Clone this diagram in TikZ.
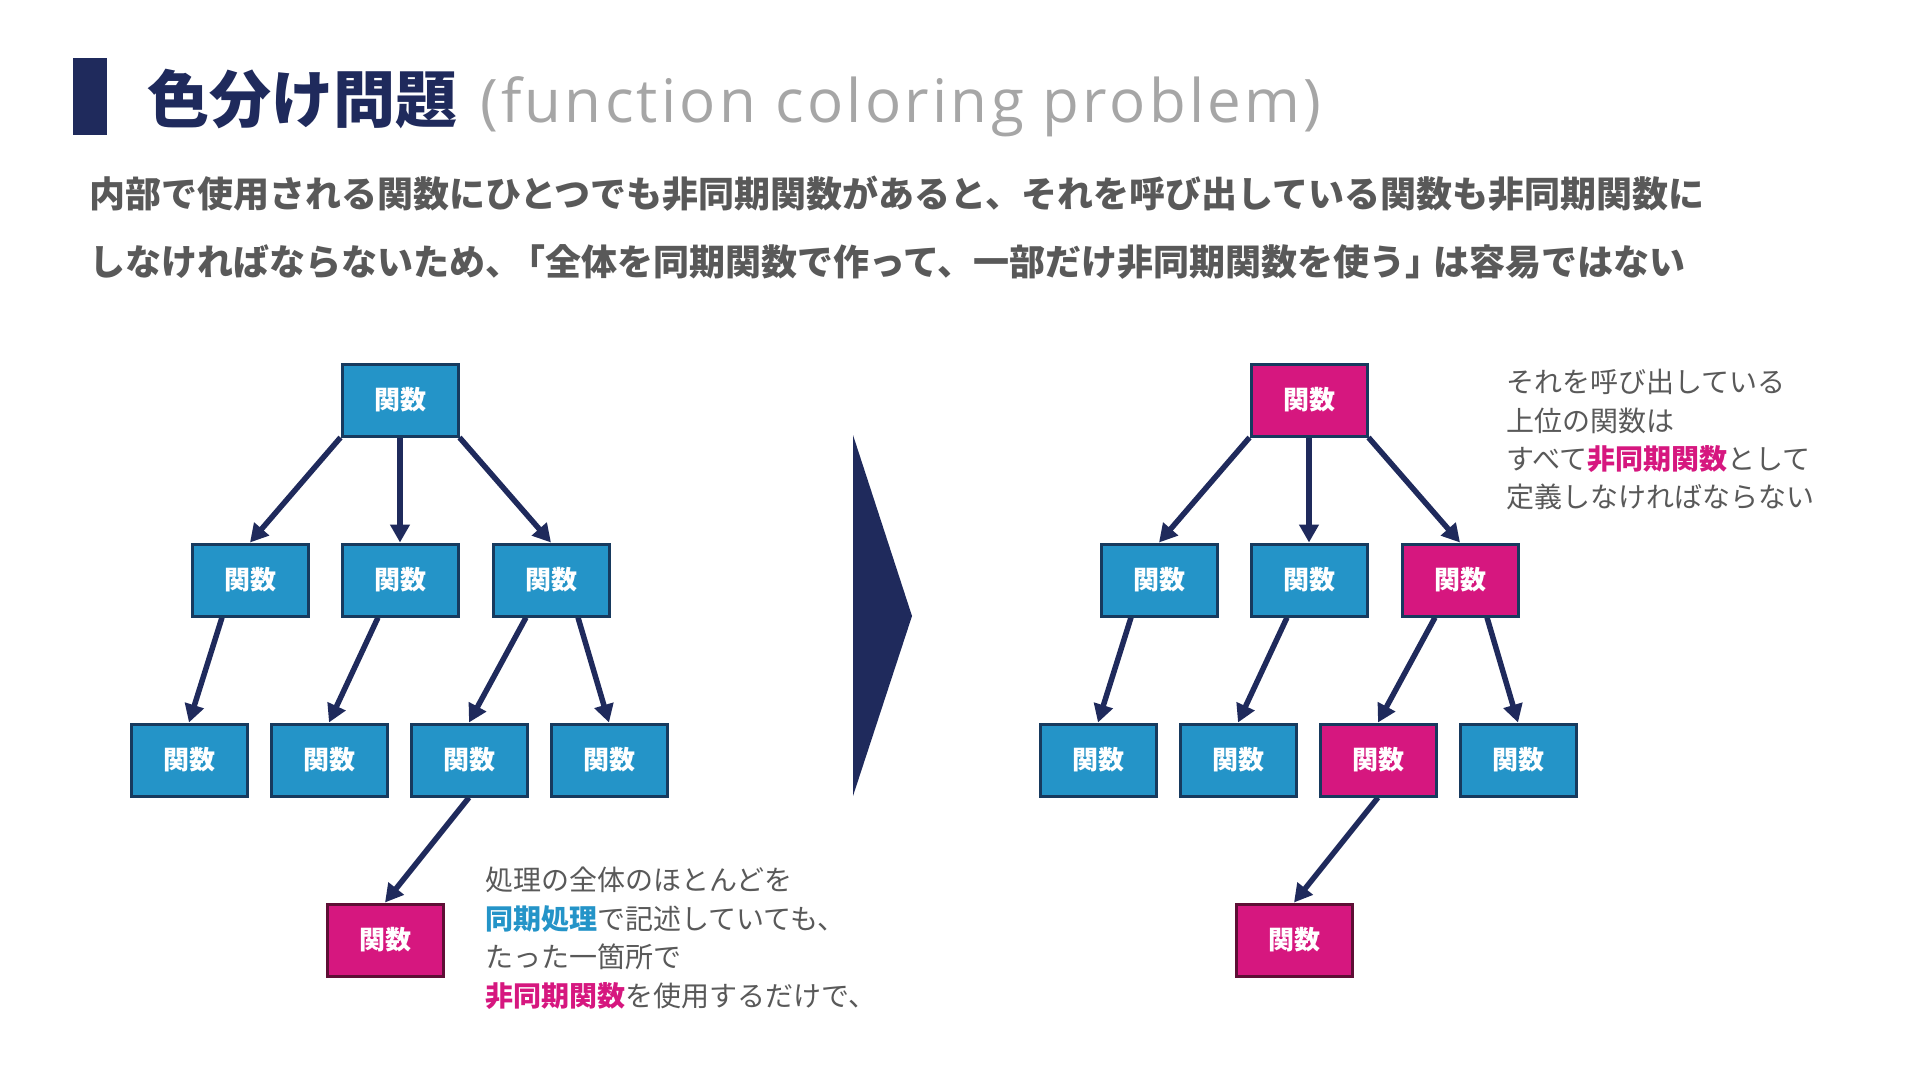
\documentclass[tikz,border=0pt]{standalone}
\usepackage{fontspec}
\setmainfont{Noto Sans CJK JP}
\newfontfamily\latinfont[LetterSpace=5.5]{Open Sans}
\usetikzlibrary{arrows.meta,backgrounds,calc}
\definecolor{navy}{HTML}{1F2A5C}
\definecolor{fblue}{HTML}{2494C8}
\definecolor{bord}{HTML}{173A5E}
\definecolor{fpink}{HTML}{D6177F}
\definecolor{pbord}{HTML}{5E0F35}
\definecolor{tgray}{HTML}{595959}
\definecolor{lgray}{HTML}{A6A6A6}
\tikzset{
  fn/.style={draw=bord, line width=3pt, fill=fblue, minimum width=116pt, minimum height=72pt,
    inner sep=0pt, text=white, font=\bfseries\fontsize{26}{26}\selectfont},
  fnp/.style={fn, fill=fpink},
  fnpm/.style={fnp, draw=pbord},
  conn/.style={draw=navy, line width=5.5pt, -{Triangle[length=18pt,width=19pt]}},
  txt/.style={anchor=base west, inner sep=0pt, text=tgray, font=\fontsize{28}{28}\selectfont},
  sub/.style={anchor=base west, inner sep=0pt, text=tgray, font=\bfseries\fontsize{36}{36}\selectfont},
}
\begin{document}
\begin{tikzpicture}[x=1pt,y=-1pt]
\useasboundingbox (0,0) rectangle (1920,1080);

% title
\fill[navy] (73,58) rectangle (107,135);
\node[anchor=base west, inner sep=0pt, text=navy, font=\bfseries\fontsize{62}{62}\selectfont] (title) at (147,122) {色分け問題};
\node[anchor=base west, inner sep=0pt, text=lgray, font=\latinfont\fontsize{60}{60}\selectfont] (titleen) at (480,122) {(function coloring problem)};

% subtitle
\node[sub] (s1) at (89,207) {内部で使用される関数にひとつでも非同期関数があると、それを呼び出している関数も非同期関数に};
\node[sub] (s2) at (89,275) {しなければならないため、\kern-12pt「全体を同期関数で作って、一部だけ非同期関数を使う」\kern-8pt は容易ではない};

% left tree
\node[fn] (a) at (400,400) {関数};
\node[fn] (b1) at (250,580) {関数};
\node[fn] (b2) at (400,580) {関数};
\node[fn] (b3) at (551,580) {関数};
\node[fn] (c1) at (189,760) {関数};
\node[fn] (c2) at (329,760) {関数};
\node[fn] (c3) at (469,760) {関数};
\node[fn] (c4) at (609,760) {関数};
\node[fnpm] (d1) at (385,940) {関数};

% right tree
\node[fnp] (ra) at (1309,400) {関数};
\node[fn] (rb1) at (1159,580) {関数};
\node[fn] (rb2) at (1309,580) {関数};
\node[fnp] (rb3) at (1460,580) {関数};
\node[fn] (rc1) at (1098,760) {関数};
\node[fn] (rc2) at (1238,760) {関数};
\node[fnp] (rc3) at (1378,760) {関数};
\node[fn] (rc4) at (1518,760) {関数};
\node[fnpm] (rd1) at (1294,940) {関数};

\begin{scope}[on background layer]
\fill[white] (0,0) rectangle (1920,1080);
\foreach \p in {,r}{
  \draw[conn] (\p a.south west) -- (\p b1.north);
  \draw[conn] (\p a.south) -- (\p b2.north);
  \draw[conn] (\p a.south east) -- (\p b3.north);
  \draw[conn] ($(\p b1.south)+(-28,0)$) -- (\p c1.north);
  \draw[conn] ($(\p b2.south)+(-22,0)$) -- (\p c2.north);
  \draw[conn] ($(\p b3.south)+(-25,0)$) -- (\p c3.north);
  \draw[conn] ($(\p b3.south)+(27,0)$) -- (\p c4.north);
  \draw[conn] (\p c3.south) -- (\p d1.north);
}
\end{scope}

% big arrow
\fill[navy] (853,435) -- (912,616) -- (853,796) -- cycle;

% left note
\node[txt] (l1) at (485,890) {処理の全体のほとんどを};
\node[txt] (l2) at (485,929) {{\bfseries\color{fblue}同期処理}で記述していても、};
\node[txt] (l3) at (485,967) {たった一箇所で};
\node[txt] (l4) at (485,1006) {{\bfseries\color{fpink}非同期関数}を使用するだけで、};

% right note
\node[txt] (r1) at (1506,392) {それを呼び出している};
\node[txt] (r2) at (1506,431) {上位の関数は};
\node[txt] (r3) at (1506,469) {すべて{\bfseries\color{fpink}非同期関数}として};
\node[txt] (r4) at (1506,507) {定義しなければならない};
\end{tikzpicture}
\end{document}
